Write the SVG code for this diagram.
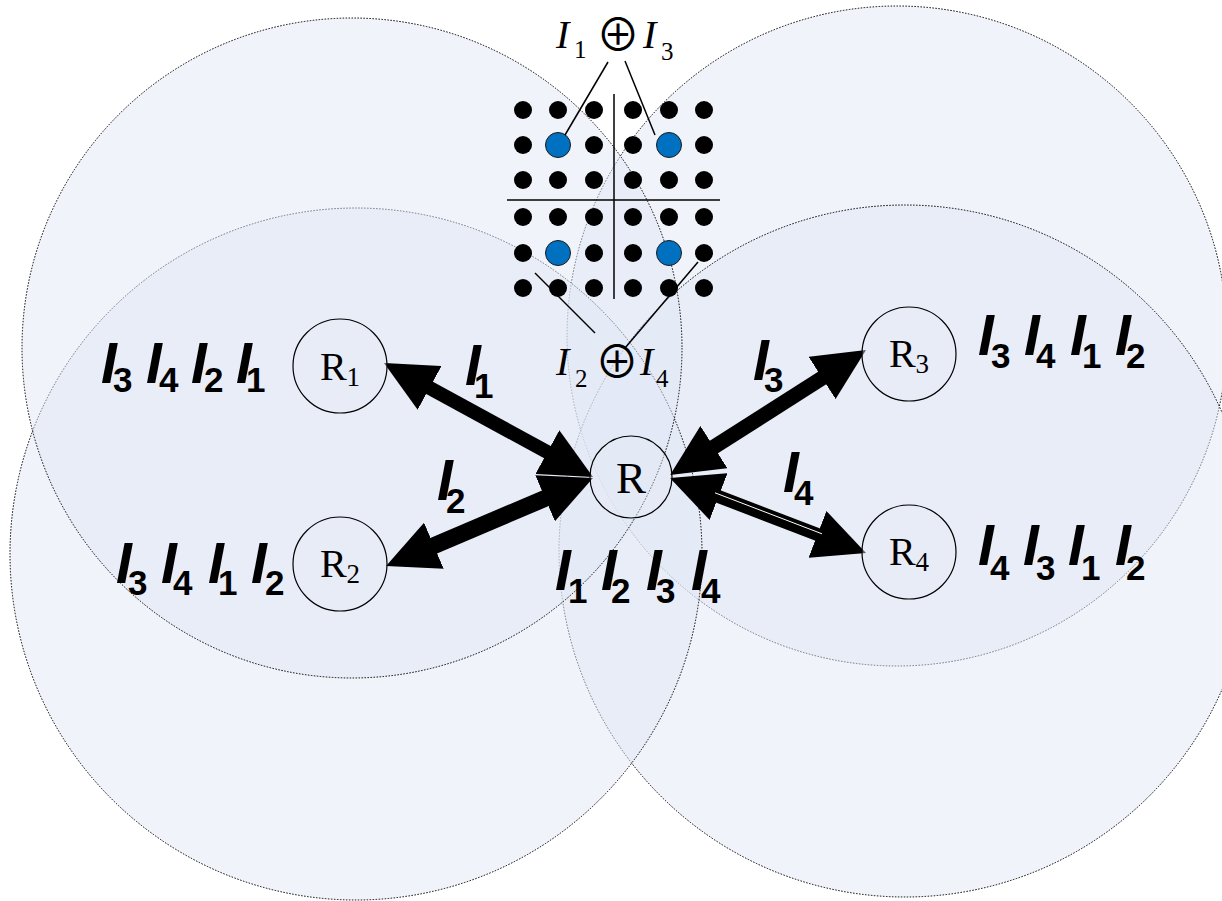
<svg xmlns="http://www.w3.org/2000/svg" width="1222" height="901" viewBox="0 0 1222 901">
<style>
.area{fill:#E1E8F5;fill-opacity:0.5;stroke:#000;stroke-width:1;stroke-dasharray:1.5 1.5}
.node{fill:#E6EBF6;fill-opacity:0.4;stroke:#000;stroke-width:1.2}
.nt{font-family:"Liberation Serif",serif;font-size:40px;fill:#000}
.ns{font-size:27px}
.lab{font-family:"Liberation Sans",Arial,sans-serif;font-weight:bold;fill:#000}
.i{font-style:italic;font-size:57px}
.s{font-style:normal;font-size:35px}
.xo{font-family:"Liberation Serif",serif;fill:#000}
.xi{font-style:italic;font-size:40px}
.xs{font-size:25px}
.op{font-family:"Noto Sans CJK JP","DejaVu Sans",sans-serif;font-size:44px}
.dot{fill:#000}
.blue{fill:#0070C0;stroke:#1a1a1a;stroke-width:1}
.thin{stroke:#000;stroke-width:1.5;fill:none}
.arr{stroke:#000;fill:none;marker-start:url(#ah);marker-end:url(#ah)}
</style>
<defs>
<marker id="ah" markerUnits="userSpaceOnUse" viewBox="0 0 52 50" markerWidth="52" markerHeight="50" refX="34" refY="25" orient="auto-start-reverse">
<path d="M0,0 L52,25 L0,50 Z" fill="#000"/>
</marker>
</defs>
<rect width="1222" height="901" fill="#fff"/>
<g id="areas">
<circle id="areaR3" class="area" cx="897" cy="336" r="330"/>
<circle id="areaR4" class="area" cx="905" cy="551" r="346"/>
<circle id="areaR2" class="area" cx="356" cy="554" r="346"/>
<circle id="areaR1" class="area" cx="352" cy="348" r="330"/>
</g>
<g id="constellation">
<line class="thin" x1="614" y1="94" x2="614" y2="299"/>
<line class="thin" x1="507" y1="200" x2="720" y2="200"/>
<g class="dots">
<circle class="dot" cx="523" cy="110" r="9"/><circle class="dot" cx="558" cy="110" r="9"/><circle class="dot" cx="594" cy="110" r="9"/><circle class="dot" cx="633" cy="110" r="9"/><circle class="dot" cx="669" cy="110" r="9"/><circle class="dot" cx="704" cy="110" r="9"/>
<circle class="dot" cx="523" cy="145" r="9"/><circle class="blue" cx="558" cy="145" r="12.5"/><circle class="dot" cx="594" cy="145" r="9"/><circle class="dot" cx="633" cy="145" r="9"/><circle class="blue" cx="669" cy="145" r="12.5"/><circle class="dot" cx="704" cy="145" r="9"/>
<circle class="dot" cx="523" cy="180" r="9"/><circle class="dot" cx="558" cy="180" r="9"/><circle class="dot" cx="594" cy="180" r="9"/><circle class="dot" cx="633" cy="180" r="9"/><circle class="dot" cx="669" cy="180" r="9"/><circle class="dot" cx="704" cy="180" r="9"/>
<circle class="dot" cx="523" cy="217" r="9"/><circle class="dot" cx="558" cy="217" r="9"/><circle class="dot" cx="594" cy="217" r="9"/><circle class="dot" cx="633" cy="217" r="9"/><circle class="dot" cx="669" cy="217" r="9"/><circle class="dot" cx="704" cy="217" r="9"/>
<circle class="dot" cx="523" cy="253" r="9"/><circle class="blue" cx="558" cy="253" r="12.5"/><circle class="dot" cx="594" cy="253" r="9"/><circle class="dot" cx="633" cy="253" r="9"/><circle class="blue" cx="669" cy="253" r="12.5"/><circle class="dot" cx="704" cy="253" r="9"/>
<circle class="dot" cx="523" cy="288" r="9"/><circle class="dot" cx="558" cy="288" r="9"/><circle class="dot" cx="594" cy="288" r="9"/><circle class="dot" cx="633" cy="288" r="9"/><circle class="dot" cx="669" cy="288" r="9"/><circle class="dot" cx="704" cy="288" r="9"/>
</g>
<line class="thin" x1="608" y1="62" x2="565" y2="135"/>
<line class="thin" x1="625" y1="61" x2="655" y2="135"/>
<line class="thin" x1="535" y1="273" x2="595" y2="333"/>
<line class="thin" x1="698" y1="262" x2="625" y2="348"/>
<text class="xo"><tspan class="xi" x="556" y="48">I</tspan><tspan class="xs" x="574" y="58">1</tspan><tspan class="op" x="618" y="51" text-anchor="middle">⊕</tspan><tspan class="xi" x="643" y="48">I</tspan><tspan class="xs" x="661" y="60">3</tspan></text>
<text class="xo"><tspan class="xi" x="556" y="375">I</tspan><tspan class="xs" x="575" y="387">2</tspan><tspan class="op" x="617" y="378" text-anchor="middle">⊕</tspan><tspan class="xi" x="640" y="375">I</tspan><tspan class="xs" x="656" y="387">4</tspan></text>
</g>
<g id="connectors">
<line class="arr" stroke-width="14" x1="577.2" y1="468.4" x2="399.8" y2="371.6"/>
<line class="arr" stroke-width="17" x1="576.4" y1="485" x2="402.6" y2="559"/>
<line class="arr" stroke-width="15" x1="685.2" y1="465.3" x2="850.8" y2="359.7"/>
<line class="arr" stroke-width="13" x1="686.8" y1="484.4" x2="849.2" y2="546.6"/>
<line stroke="#fff" stroke-width="1" x1="715" y1="492.8" x2="822" y2="533.8"/>
<text class="lab"><tspan class="i" x="465" y="385">I</tspan><tspan class="s" x="474" y="398">1</tspan></text>
<text class="lab"><tspan class="i" x="437" y="500">I</tspan><tspan class="s" x="446" y="513">2</tspan></text>
<text class="lab"><tspan class="i" x="753" y="380">I</tspan><tspan class="s" x="764" y="392">3</tspan></text>
<text class="lab"><tspan class="i" x="783" y="492">I</tspan><tspan class="s" x="794" y="505">4</tspan></text>
</g>
<g id="R1">
<circle class="node" cx="340" cy="366" r="47"/>
<text class="nt" x="340" y="380" text-anchor="middle">R<tspan class="ns" dy="6">1</tspan></text>
<text class="lab"><tspan class="i" x="101" y="383">I</tspan><tspan class="s" x="113" y="392">3</tspan><tspan class="i" x="146" y="383">I</tspan><tspan class="s" x="159" y="392">4</tspan><tspan class="i" x="191" y="383">I</tspan><tspan class="s" x="204" y="392">2</tspan><tspan class="i" x="236" y="383">I</tspan><tspan class="s" x="246" y="392">1</tspan></text>
</g>
<g id="R2">
<circle class="node" cx="340" cy="564" r="47"/>
<text class="nt" x="340" y="577" text-anchor="middle">R<tspan class="ns" dy="6">2</tspan></text>
<text class="lab"><tspan class="i" x="116" y="583">I</tspan><tspan class="s" x="128" y="595">3</tspan><tspan class="i" x="161" y="583">I</tspan><tspan class="s" x="173" y="595">4</tspan><tspan class="i" x="208" y="583">I</tspan><tspan class="s" x="218" y="595">1</tspan><tspan class="i" x="251" y="583">I</tspan><tspan class="s" x="265" y="595">2</tspan></text>
</g>
<g id="R">
<circle class="node" cx="631" cy="477" r="41"/>
<text class="nt" x="631" y="493" text-anchor="middle" style="font-size:45px">R</text>
<text class="lab"><tspan class="i" x="555" y="590">I</tspan><tspan class="s" x="568" y="603">1</tspan><tspan class="i" x="601" y="590">I</tspan><tspan class="s" x="611" y="603">2</tspan><tspan class="i" x="646" y="590">I</tspan><tspan class="s" x="656" y="603">3</tspan><tspan class="i" x="691" y="590">I</tspan><tspan class="s" x="701" y="603">4</tspan></text>
</g>
<g id="R3">
<circle class="node" cx="909" cy="354" r="47"/>
<text class="nt" x="909" y="367" text-anchor="middle">R<tspan class="ns" dy="6">3</tspan></text>
<text class="lab"><tspan class="i" x="978" y="355">I</tspan><tspan class="s" x="991" y="368">3</tspan><tspan class="i" x="1024" y="355">I</tspan><tspan class="s" x="1036" y="368">4</tspan><tspan class="i" x="1070" y="355">I</tspan><tspan class="s" x="1082" y="368">1</tspan><tspan class="i" x="1115" y="355">I</tspan><tspan class="s" x="1126" y="368">2</tspan></text>
</g>
<g id="R4">
<circle class="node" cx="909" cy="552" r="47"/>
<text class="nt" x="909" y="565" text-anchor="middle">R<tspan class="ns" dy="6">4</tspan></text>
<text class="lab"><tspan class="i" x="978" y="565">I</tspan><tspan class="s" x="990" y="580">4</tspan><tspan class="i" x="1023" y="565">I</tspan><tspan class="s" x="1036" y="580">3</tspan><tspan class="i" x="1068" y="565">I</tspan><tspan class="s" x="1081" y="580">1</tspan><tspan class="i" x="1115" y="565">I</tspan><tspan class="s" x="1126" y="580">2</tspan></text>
</g>
</svg>
